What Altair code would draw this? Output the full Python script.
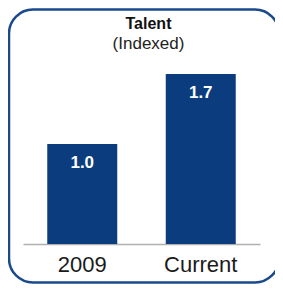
import altair as alt
import pandas as pd

categories = ["2009", "Current"]
values = [1.0, 1.7]

BAR = "#0b3d7e"
FRAME = "#1a4a8c"
FONT = "Liberation Sans"

df = pd.DataFrame({"period": categories, "index": values})

base = alt.Chart(df)

x = alt.X("period:N", sort=categories,
          scale=alt.Scale(paddingInner=0, paddingOuter=0),
          axis=alt.Axis(title=None, labelAngle=0, ticks=False, labelFontSize=22,
                        labelFont=FONT, labelColor="#1a1a1a", labelPadding=10,
                        domainColor="#b0b0b0", domainWidth=1.5, grid=False))
y = alt.Y("index:Q", scale=alt.Scale(domain=[0, 2]), axis=None)

bars = base.mark_bar(color=BAR, size=70).encode(x=x, y=y)
labels = base.mark_text(color="white", fontSize=17, fontWeight="bold", font=FONT,
                        baseline="middle", dy=19).encode(
    x=x, y=y, text=alt.Text("index:Q", format=".1f"))

frame = alt.Chart(pd.DataFrame({"f": [0]})).mark_rect(
    fill=None, stroke=FRAME, strokeWidth=2.5, cornerRadius=24).encode(
    x=alt.value(-14), x2=alt.value(256), y=alt.value(-34.5), y2=alt.value(238.5))

chart = alt.layer(frame, bars, labels).properties(
    width=237, height=200,
    autosize=alt.AutoSizeParams(type="none"),
    padding={"left": 15, "top": 36, "right": 15, "bottom": 40},
    title=alt.TitleParams(text="Talent", subtitle="(Indexed)", font=FONT,
                          fontSize=16, fontWeight="bold", color="#111111",
                          subtitleFont=FONT, subtitleFontSize=17,
                          subtitleColor="#222222", subtitlePadding=4,
                          anchor="middle", offset=-43.5, dx=7),
).configure_view(stroke=None)

chart.save("out.html", embed_options={"renderer": "svg", "actions": False})
